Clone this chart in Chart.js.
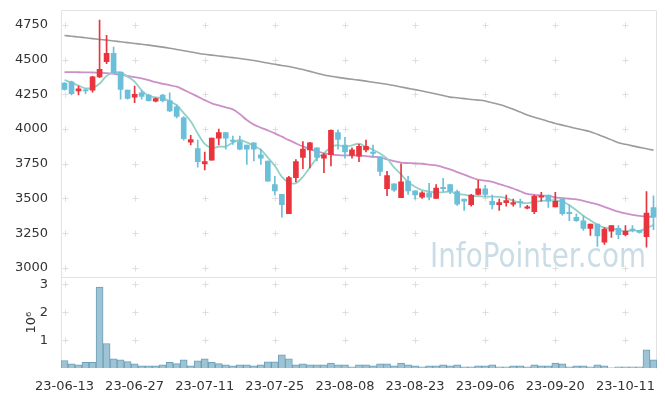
<!DOCTYPE html>
<html><head><meta charset="utf-8">
<script src="https://cdn.jsdelivr.net/npm/chart.js@4.4.0/dist/chart.umd.min.js"></script>
<style>html,body{margin:0;padding:0;background:#fff;overflow:hidden}</style>
</head><body><canvas id="c" width="665" height="396"></canvas>
<script>
const dates = ["23-06-13","23-06-14","23-06-15","23-06-16","23-06-19","23-06-20","23-06-21","23-06-22","23-06-23","23-06-26",
"23-06-27","23-06-28","23-06-29","23-06-30","23-07-03","23-07-04","23-07-05","23-07-06","23-07-07","23-07-10",
"23-07-11","23-07-12","23-07-13","23-07-14","23-07-17","23-07-18","23-07-19","23-07-20","23-07-21","23-07-24",
"23-07-25","23-07-26","23-07-27","23-07-28","23-07-31","23-08-01","23-08-02","23-08-03","23-08-04","23-08-07",
"23-08-08","23-08-09","23-08-10","23-08-11","23-08-14","23-08-16","23-08-17","23-08-18","23-08-21","23-08-22",
"23-08-23","23-08-24","23-08-25","23-08-28","23-08-29","23-08-30","23-08-31","23-09-01","23-09-04","23-09-05",
"23-09-06","23-09-07","23-09-08","23-09-11","23-09-12","23-09-13","23-09-14","23-09-15","23-09-18","23-09-19",
"23-09-20","23-09-21","23-09-22","23-09-25","23-09-26","23-09-27","23-10-04","23-10-05","23-10-06","23-10-10",
"23-10-11","23-10-12","23-10-13","23-10-16","23-10-17"];

const openP = [4330,4340,4275,4280,4280,4375,4485,4545,4410,4280,
 4230,4260,4245,4200,4245,4205,4160,4080,3905,3860,
 3750,3775,3935,3975,3920,3910,3885,3900,3815,3770,
 3600,3530,3390,3650,3795,3850,3865,3790,3815,3975,
 3885,3810,3805,3850,3835,3800,3570,3605,3505,3625,
 3555,3510,3540,3500,3580,3600,3550,3495,3455,3530,
 3570,3480,3455,3470,3460,3475,3430,3405,3510,3525,
 3440,3495,3400,3365,3340,3285,3315,3185,3265,3285,
 3240,3280,3270,3225,3435];
const highP = [4335,4345,4310,4290,4380,4785,4675,4590,4410,4280,
 4310,4275,4250,4225,4250,4260,4175,4090,3955,3920,
 3835,3935,4000,3975,3950,3950,3885,3900,3855,3770,
 3660,3530,3660,3780,3910,3905,3865,3825,3995,3995,
 3940,3865,3890,3920,3885,3800,3695,3605,3750,3660,
 3555,3550,3610,3600,3645,3600,3560,3495,3530,3630,
 3595,3525,3495,3525,3495,3495,3450,3525,3545,3525,
 3545,3500,3455,3390,3375,3315,3315,3290,3305,3305,
 3305,3305,3270,3550,3520];
const lowP = [4280,4245,4245,4255,4265,4370,4470,4405,4215,4215,
 4190,4215,4200,4195,4195,4125,4080,3920,3885,3725,
 3705,3775,3885,3855,3890,3850,3745,3770,3745,3625,
 3525,3365,3390,3620,3715,3720,3770,3685,3735,3855,
 3790,3790,3765,3835,3795,3665,3520,3550,3505,3530,
 3495,3500,3490,3500,3550,3535,3450,3415,3445,3525,
 3510,3425,3415,3445,3445,3435,3425,3390,3480,3435,
 3440,3380,3340,3335,3270,3235,3155,3170,3220,3210,
 3230,3260,3250,3150,3275];
const closeP = [4285,4255,4290,4275,4375,4430,4545,4405,4285,4220,
 4250,4235,4205,4220,4205,4130,4090,3930,3925,3765,
 3765,3935,3975,3935,3910,3855,3855,3855,3790,3625,
 3555,3455,3650,3765,3855,3900,3795,3815,3990,3925,
 3835,3850,3875,3875,3825,3695,3665,3560,3620,3555,
 3525,3540,3510,3575,3570,3550,3460,3480,3525,3570,
 3530,3455,3470,3485,3470,3470,3440,3515,3520,3480,
 3480,3390,3390,3340,3285,3315,3230,3280,3305,3240,
 3265,3270,3255,3395,3365];
// volume in millions of shares (axis unit 10^6)
const volumeM = [0.27,0.15,0.11,0.20,0.20,2.91,0.88,0.33,0.29,0.23,
 0.15,0.08,0.08,0.08,0.11,0.20,0.16,0.29,0.08,0.26,
 0.33,0.20,0.16,0.11,0.08,0.11,0.11,0.08,0.11,0.22,
 0.22,0.47,0.33,0.11,0.15,0.11,0.11,0.11,0.18,0.11,
 0.11,0.04,0.11,0.11,0.08,0.15,0.15,0.08,0.18,0.11,
 0.08,0.04,0.08,0.08,0.11,0.08,0.11,0.04,0.04,0.08,
 0.08,0.11,0.04,0.04,0.08,0.08,0.04,0.11,0.08,0.08,
 0.18,0.15,0.04,0.08,0.08,0.04,0.11,0.08,0.01,0.04,
 0.04,0.04,0.04,0.65,0.29];
const ma5 = [4353,4334,4312,4293,4297,4326,4383,4406,4408,4377,
 4341,4279,4240,4227,4223,4200,4171,4115,4056,3968,
 3894,3864,3873,3874,3903,3921,3904,3880,3851,3795,
 3735,3656,3615,3610,3656,3724,3791,3825,3870,3884,
 3872,3883,3894,3872,3851,3824,3787,3724,3673,3619,
 3584,3560,3550,3541,3545,3550,3533,3528,3517,3517,
 3513,3513,3511,3503,3483,3471,3467,3475,3483,3485,
 3487,3477,3452,3415,3376,3343,3312,3290,3283,3274,
 3263,3271,3266,3285,3310];
const ma20 = [4410,4410,4409,4408,4407,4405,4403,4398,4390,4382,
 4374,4365,4352,4337,4326,4316,4305,4282,4258,4233,
 4208,4185,4170,4156,4142,4108,4065,4032,4010,3990,
 3969,3945,3920,3897,3875,3856,3840,3826,3818,3812,
 3810,3810,3808,3805,3800,3796,3782,3769,3758,3755,
 3753,3750,3744,3738,3725,3710,3690,3672,3652,3635,
 3628,3620,3604,3588,3572,3552,3533,3526,3522,3518,
 3508,3503,3498,3493,3483,3470,3457,3440,3422,3405,
 3392,3382,3375,3370,3368];
const ma120 = [4673,4668,4663,4657,4651,4645,4640,4634,4628,4622,
 4616,4610,4604,4597,4590,4582,4573,4564,4555,4546,
 4538,4532,4526,4520,4514,4508,4501,4494,4484,4475,
 4466,4458,4450,4440,4428,4415,4402,4389,4380,4372,
 4365,4358,4352,4345,4337,4330,4322,4313,4303,4293,
 4284,4274,4263,4252,4241,4230,4225,4219,4213,4208,
 4202,4189,4176,4161,4143,4122,4101,4085,4070,4055,
 4040,4028,4016,4004,3993,3981,3962,3942,3922,3902,
 3890,3879,3868,3858,3848];
const priceTicks = [3000,3250,3500,3750,4000,4250,4500,4750];
const volumeTicks = [1,2,3];
const dateTickStep = 10;
const watermarkText = "InfoPointer.com";
const volumeTitle = "10\u2076";

const RED = '#e8343d', BLUE = '#6cbfd8';
const candleColors = closeP.map((c,i) => c >= openP[i] ? RED : BLUE);
const FONT = {family: "'DejaVu Sans', sans-serif", size: 13};

const fitY = s => { s.width = 61; s.paddingTop = 0; s.paddingBottom = 0; };

const crossGrid = {
  id: 'crossGrid',
  beforeDatasetsDraw(chart) {
    const {ctx, chartArea, scales} = chart;
    const x = scales.x, y = scales.y, yv = scales.yv;
    ctx.save();
    ctx.font = "33px 'DejaVu Sans'";
    ctx.fillStyle = '#cadde7';
    ctx.textBaseline = 'alphabetic';
    const w = ctx.measureText(watermarkText).width;
    ctx.save();
    ctx.translate(430, 267);
    ctx.scale(216 / w, 1);
    ctx.fillText(watermarkText, 0, 0);
    ctx.restore();
    ctx.strokeStyle = '#dedede'; ctx.lineWidth = 1;
    const xs = x.ticks.map(t => x.getPixelForValue(t.value));
    const ys = y.ticks.map(t => y.getPixelForValue(t.value)).concat(yv.ticks.map(t => yv.getPixelForValue(t.value)));
    ctx.beginPath();
    xs.forEach(px => ys.forEach(py => {
      const X = Math.round(px) + 0.5, Y = Math.round(py) + 0.5;
      ctx.moveTo(X - 3, Y); ctx.lineTo(X + 3, Y);
      ctx.moveTo(X, Y - 3); ctx.lineTo(X, Y + 3);
    }));
    ctx.stroke();
    ctx.strokeStyle = '#e2e2e2';
    const L = Math.round(chartArea.left) + 0.5, R = Math.round(chartArea.right) - 0.5;
    const T = Math.round(chartArea.top) + 0.5, M = Math.round(y.bottom) + 0.5, B = Math.round(chartArea.bottom) + 0.5;
    ctx.beginPath();
    ctx.moveTo(L, B); ctx.lineTo(L, T); ctx.lineTo(R, T); ctx.lineTo(R, B);
    ctx.moveTo(L, M); ctx.lineTo(R, M);
    ctx.stroke();
    ctx.restore();
  }
};

new Chart(document.getElementById('c'), {
  data: {
    labels: dates,
    datasets: [
      {type: 'line', label: 'MA120', data: ma120, yAxisID: 'y', borderColor: '#9b9b9b', borderWidth: 1.6, pointRadius: 0, tension: 0.3, order: 5},
      {type: 'line', label: 'MA20', data: ma20, yAxisID: 'y', borderColor: '#cc90c9', borderWidth: 1.8, pointRadius: 0, tension: 0.3, order: 4},
      {type: 'line', label: 'MA5', data: ma5, yAxisID: 'y', borderColor: '#93d0c6', borderWidth: 1.8, pointRadius: 0, tension: 0.3, order: 3},
      {type: 'bar', label: 'wick', data: highP.map((h,i) => [lowP[i], h]), yAxisID: 'y', backgroundColor: candleColors, barThickness: 1, grouped: false, order: 2},
      {type: 'bar', label: 'body', data: openP.map((o,i) => [Math.min(o, closeP[i]), Math.max(o, closeP[i])]), yAxisID: 'y', backgroundColor: candleColors, barThickness: 5, minBarLength: 1, grouped: false, order: 1},
      {type: 'bar', label: 'volume', data: volumeM, yAxisID: 'yv', backgroundColor: '#9dc3d5', borderColor: '#6d9fb8', borderWidth: 1, barPercentage: 1, categoryPercentage: 1, grouped: false, order: 6}
    ]
  },
  options: {
    responsive: false, animation: false, devicePixelRatio: 1,
    layout: {padding: {top: 10, right: 8, left: 0, bottom: 0}},
    plugins: {legend: {display: false}, tooltip: {enabled: false}},
    scales: {
      x: {
        type: 'category', offset: true,
        grid: {display: false}, border: {display: false},
        afterBuildTicks: s => { s.ticks = s.ticks.filter(t => t.value % dateTickStep === 0); },
        ticks: {autoSkip: false, maxRotation: 0, padding: 3, color: '#333', font: FONT, callback: v => dates[v]},
        afterFit: s => { s.height = 28; s.paddingLeft = 0; s.paddingRight = 0; }
      },
      y: {
        type: 'linear', position: 'left', stack: 'main', stackWeight: 266.5, weight: 2,
        min: 2933, max: 4857,
        afterBuildTicks: s => { s.ticks = priceTicks.map(v => ({value: v})); },
        grid: {display: false}, border: {display: false},
        ticks: {color: '#333', font: FONT, padding: 5, callback: v => String(v)},
        afterFit: fitY
      },
      yv: {
        type: 'linear', position: 'left', stack: 'main', stackWeight: 90.5, weight: 1,
        min: 0, max: 3.26,
        afterBuildTicks: s => { s.ticks = volumeTicks.map(v => ({value: v})); },
        grid: {display: false}, border: {display: false},
        title: {display: true, text: volumeTitle, color: '#333', font: FONT, padding: {top: 24, bottom: 0}},
        ticks: {color: '#333', font: FONT, padding: 5, callback: v => String(v)},
        afterFit: fitY
      }
    }
  },
  plugins: [crossGrid]
});
</script>
</body></html>
